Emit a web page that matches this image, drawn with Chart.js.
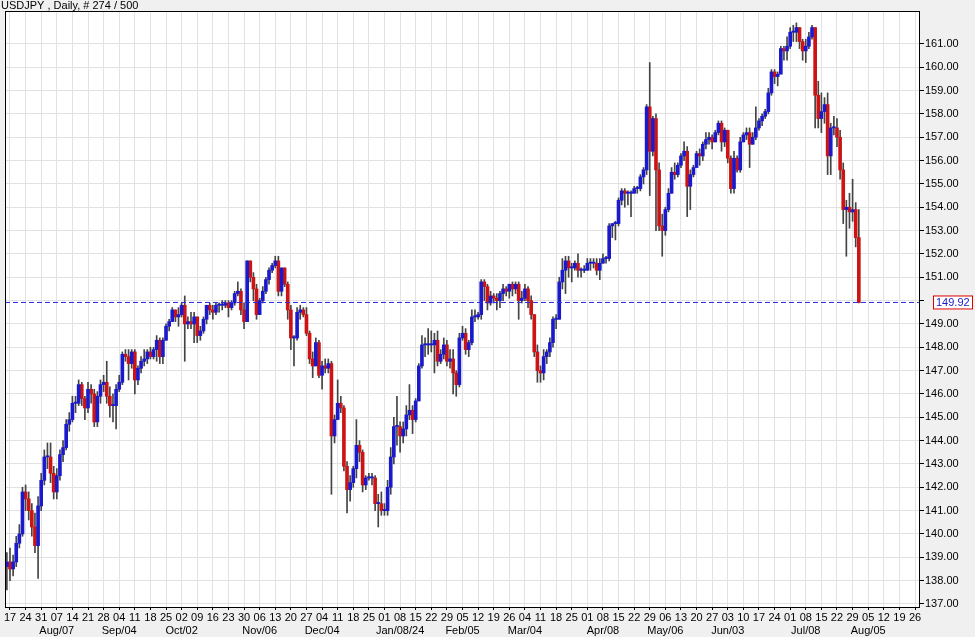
<!DOCTYPE html>
<html><head><meta charset="utf-8">
<script src="https://cdn.jsdelivr.net/npm/chart.js@4"></script>
<style>html,body{margin:0;padding:0;background:#f0f0f0;overflow:hidden}</style>
</head><body><canvas id="c" width="975" height="637"></canvas>
<script>
const title = "USDJPY , Daily, # 274 / 500";
const firstOpen = 138.6;
const closes = [138.8,
138.5,138.8,139.6,140.0,141.8, 141.5,141.0,140.3,139.5,141.2, 142.3,143.3,143.3,142.6,141.8, 142.5,143.4,143.7,144.7,144.9,
145.6,145.6,146.4,145.8,145.4, 146.2,146.0,144.8,145.9,146.4, 146.5,145.9,145.5,145.5,146.2, 146.5,147.7,147.6,147.3,147.8,
146.6,147.1,147.4,147.5,147.8, 147.6,147.9,148.3,147.6,148.3, 148.9,149.1,149.6,149.3,149.4, 149.8,149.0,149.1,149.0,149.3,
148.5,148.7,149.2,149.8,149.6, 149.5,149.8,149.8,149.8,149.9, 149.7,149.9,150.3,150.4,149.6, 149.1,151.7,151.0,150.5,149.4,
150.0,150.4,150.9,151.3,151.5, 151.7,150.4,151.4,150.7,149.6, 148.4,148.4,149.5,149.6,149.4, 148.6,147.5,147.2,148.2,146.8,
147.2,147.1,147.3,144.2,144.9, 145.6,145.4,142.9,141.9,142.2, 142.8,143.8,143.5,142.1,142.4, 142.4,142.4,141.3,141.3,141.0,
141.0,142.0,143.3,144.6,144.6, 144.2,144.5,145.1,145.3,144.9, 145.7,147.2,148.1,148.1,148.1, 148.1,148.3,147.4,147.7,148.1,
147.4,147.5,146.9,146.4,148.4, 148.6,147.9,148.2,149.3,149.3, 149.4,150.8,150.6,149.9,150.2, 150.1,150.0,150.3,150.5,150.4,
150.7,150.5,150.7,150.0,150.1, 150.5,150.0,149.4,147.8,147.0, 146.9,147.6,147.8,148.2,149.2, 149.2,150.8,151.3,151.7,151.4,
151.4,151.6,151.3,151.3,151.3, 151.6,151.6,151.6,151.3,151.6, 151.8,151.8,153.2,153.3,153.3, 154.3,154.7,154.6,154.6,154.6,
154.8,154.8,155.3,155.6,158.3, 156.4,157.8,155.6,153.2,153.0, 153.9,154.6,155.5,155.4,155.8, 156.2,156.4,154.9,155.4,155.7,
156.3,156.2,156.7,156.9,157.0, 156.8,157.2,157.6,156.8,157.3, 156.1,154.8,156.1,155.6,156.8, 157.1,157.2,156.7,157.0,157.4,
157.7,157.9,158.1,158.9,159.8, 159.6,159.7,160.8,160.7,160.9, 161.5,161.5,161.7,161.1,160.7, 160.9,161.3,161.7,158.8,157.8,
158.1,158.4,156.2,157.4,157.4, 157.0,155.6,153.9,154.0,153.8, 153.9,152.7,149.92];
const highs = [139.2,
139.4,139.1,139.9,140.4,142.0, 142.1,141.8,141.3,140.9,141.6, 142.6,143.6,143.9,143.9,142.9, 142.8,143.6,144.0,144.9,145.2,
145.9,145.9,146.6,146.5,145.9, 146.5,146.4,146.2,146.1,146.6, 146.8,147.4,146.3,146.0,146.4, 146.8,147.8,147.9,147.9,147.9,
147.9,147.2,147.6,147.9,147.9, 148.0,148.0,148.5,148.4,148.4, 149.0,149.2,149.7,149.6,149.7, 149.9,150.2,149.3,149.5,149.5,
149.3,148.9,149.3,149.8,149.9, 149.8,149.9,149.9,150.0,150.0, 150.0,150.0,150.4,150.8,150.5, 149.9,151.7,151.7,151.2,150.7,
150.1,150.6,151.0,151.4,151.6, 151.9,151.9,151.4,151.4,150.8, 149.8,148.5,149.7,149.8,149.7, 149.7,148.7,147.8,148.4,148.3,
147.4,147.5,147.5,147.4,145.1, 146.6,145.9,145.5,143.1,142.5, 142.9,144.9,144.0,143.6,142.5, 142.6,142.6,142.5,141.7,141.8,
141.3,142.3,143.7,145.0,145.9, 144.8,144.8,145.5,146.4,145.5, 145.8,147.3,148.5,148.4,148.8, 148.7,148.6,148.7,147.9,148.4,
148.3,147.9,147.9,147.0,148.6, 148.9,148.8,148.3,149.6,149.6, 149.5,150.9,150.9,150.7,150.4, 150.3,150.3,150.4,150.7,150.6,
150.7,150.8,150.8,150.8,150.4, 150.7,150.6,150.2,149.4,148.1, 147.2,147.9,147.9,148.4,149.3, 149.4,151.0,151.8,151.9,151.9,
151.6,151.7,152.0,151.4,151.5, 151.8,151.8,151.8,151.8,151.8, 152.0,151.9,153.3,153.3,153.4, 154.4,154.8,154.8,154.7,154.7,
154.9,154.9,155.4,155.7,158.4, 160.2,157.9,158.0,155.9,153.7, 154.0,154.8,155.7,155.9,155.9, 156.3,156.8,156.6,155.6,155.8,
156.4,156.5,156.8,157.2,157.2, 157.1,157.3,157.7,157.7,157.4, 157.3,156.2,156.4,156.2,157.0, 157.2,157.4,157.4,157.2,158.3,
157.8,158.0,158.2,159.1,159.9, 159.9,159.8,160.9,160.9,161.3, 161.7,161.8,161.9,161.7,161.2, 161.2,161.5,161.8,161.7,159.4,
158.9,158.7,158.9,157.6,157.9, 157.8,157.3,155.9,154.3,154.6, 155.2,154.2,153.9];
const lows = [137.6,
138.0,138.2,138.6,139.4,139.9, 141.0,140.6,139.9,139.2,138.1, 141.0,142.1,142.8,142.2,141.5, 141.5,142.3,143.1,143.6,144.4,
144.8,145.2,145.5,145.5,144.9, 145.2,145.6,144.6,144.6,145.6, 146.1,145.6,145.0,144.8,144.5, 146.1,146.4,147.4,146.6,147.1,
146.0,146.4,146.9,147.2,147.3, 147.5,147.5,147.4,147.3,147.3, 148.3,148.7,149.1,149.1,148.9, 149.3,147.4,148.8,148.8,148.2,
148.2,148.3,148.6,149.0,149.4, 149.2,149.4,149.5,149.6,149.7, 149.3,149.6,149.8,150.2,149.4, 148.8,149.1,150.8,150.0,149.2,
149.4,149.9,150.3,150.7,151.2, 151.4,150.2,150.2,150.6,149.2, 147.9,147.2,148.3,149.2,149.3, 148.5,147.3,146.7,147.2,146.7,
146.2,146.9,146.9,141.7,143.9, 145.0,145.2,142.7,140.9,141.4, 142.0,142.4,143.1,141.8,141.9, 142.3,142.1,141.0,140.3,140.8,
140.8,140.8,141.7,143.0,143.8, 143.5,143.9,144.2,144.9,144.3, 144.8,145.7,147.1,147.6,147.7, 147.8,146.9,147.2,147.3,147.5,
147.2,147.1,146.0,145.9,146.3, 148.3,147.7,147.6,148.1,149.1, 149.2,149.2,150.0,149.6,149.8, 149.9,149.6,149.7,150.0,150.2,
150.1,150.2,150.3,149.2,149.9, 150.0,149.7,149.2,147.6,146.5, 146.5,146.6,147.3,147.6,148.0, 148.8,149.2,150.5,150.3,151.0,
150.8,151.3,151.0,151.0,151.2, 151.3,151.3,151.4,151.1,150.9, 151.6,151.6,151.7,152.7,152.6, 153.2,154.1,154.0,154.1,153.6,
154.6,154.6,154.7,155.0,155.4, 154.5,156.2,153.0,153.0,151.9, 152.8,153.8,154.6,155.2,155.3, 155.7,156.0,153.6,153.9,155.3,
155.8,155.8,156.0,156.5,156.7, 156.5,156.8,157.1,156.4,156.6, 155.9,154.6,154.6,155.5,155.5, 156.8,156.9,155.7,156.7,156.9,
157.3,157.5,157.8,158.0,158.8, 159.3,159.2,159.8,160.3,160.3, 160.8,161.1,161.1,160.8,160.3, 160.2,160.8,161.2,157.4,157.4,
157.2,157.6,155.4,155.4,157.1, 156.6,155.2,153.3,151.9,153.1, 153.4,152.3,149.9];
const lastPrice = 149.92;
const yTicks = [137,138,139,140,141,142,143,144,145,146,147,148,149,150,151,152,153,154,155,156,157,158,159,160,161];
const monthLabels = {"2023-08-07":"Aug/07","2023-09-04":"Sep/04","2023-10-02":"Oct/02","2023-11-06":"Nov/06","2023-12-04":"Dec/04",
"2024-01-08":"Jan/08/24","2024-02-05":"Feb/05","2024-03-04":"Mar/04","2024-04-08":"Apr/08","2024-05-06":"May/06",
"2024-06-03":"Jun/03","2024-07-08":"Jul/08","2024-08-05":"Aug/05"};
const weekCount = 59;

const UP='#1a1acc', DN='#cc1414';
const wick=[], upB=[], dnB=[];
for(let i=0;i<closes.length;i++){
  const x=i-1, o = i===0?firstOpen:closes[i-1], c=closes[i];
  wick.push({x, y:[lows[i],highs[i]]});
  const lo=Math.min(o,c), hi=Math.max(o,c)+ (Math.abs(o-c)<0.05?0.05:0);
  (c>=o?upB:dnB).push({x, y:[lo,hi]});
}
function fmtKey(d){return d.getFullYear()+'-'+String(d.getMonth()+1).padStart(2,'0')+'-'+String(d.getDate()).padStart(2,'0');}

const bg={id:'bg',beforeDraw(ch){const {ctx,chartArea:a}=ch;ctx.save();ctx.fillStyle='#f0f0f0';ctx.fillRect(0,0,ch.width,ch.height);
 ctx.fillStyle='#fff';ctx.fillRect(a.left,a.top,a.right-a.left,a.bottom-a.top);
 ctx.fillStyle='#000';ctx.font='11px "Liberation Sans", Arial';ctx.textBaseline='middle';ctx.fillText(title,1,6);ctx.restore();},
 afterDraw(ch){const {ctx,chartArea:a}=ch;const y=ch.scales.y.getPixelForValue(lastPrice);ctx.save();
 ctx.strokeStyle='#000';ctx.lineWidth=1;ctx.strokeRect(a.left+0.5,a.top+0.5,a.right-a.left-1,a.bottom-a.top);
 ctx.fillStyle='#fff';ctx.fillRect(a.right+13,y-6,40,13);ctx.strokeStyle='#e00000';ctx.strokeRect(a.right+13.5,y-6.5,39,13);
 ctx.fillStyle='#1a1acc';ctx.font='11px "Liberation Sans", Arial';ctx.textBaseline='middle';ctx.fillText(lastPrice.toFixed(2),a.right+16,y+0.5);ctx.restore();}};

new Chart(document.getElementById('c'),{
 data:{datasets:[
  {type:'bar',data:wick,backgroundColor:'#444',barThickness:1,grouped:false,order:3},
  {type:'bar',data:upB,backgroundColor:UP,barThickness:3,grouped:false,order:2},
  {type:'bar',data:dnB,backgroundColor:DN,barThickness:3,grouped:false,order:2},
  {type:'line',data:[{x:-1.6,y:lastPrice},{x:291.6,y:lastPrice}],borderColor:'#2a2ad8',borderWidth:1,borderDash:[5,3],pointRadius:0,order:1}
 ]},
 plugins:[bg],
 options:{responsive:false,animation:false,devicePixelRatio:1,
  layout:{padding:{left:5,top:11,right:0,bottom:0}},
  plugins:{legend:{display:false},tooltip:{enabled:false}},
  scales:{
   x:{type:'linear',min:-1.6,max:291.6,offset:false,
    afterBuildTicks(s){s.ticks=[];for(let w=0;w<weekCount;w++)s.ticks.push({value:w*5});},
    afterFit(s){s.height=30;},
    grid:{color:'#e2e2e2',offset:false,drawTicks:true,tickLength:3,tickColor:'#000'},border:{display:false},
    ticks:{autoSkip:false,maxRotation:0,color:'#000',padding:1,font:{family:'"Liberation Sans", Arial',size:11},
     callback(v){const d=new Date(2023,6,17+Math.round(v/5)*7);const dd=String(d.getDate()).padStart(2,'0');const m=monthLabels[fmtKey(d)];return m?[dd,m]:dd;}}},
   y:{position:'right',min:136.87,max:162.41,
    afterBuildTicks(s){s.ticks=yTicks.map(v=>({value:v}));},
    afterFit(s){s.width=55;},
    grid:{color:'#e2e2e2',drawTicks:true,tickLength:4,tickColor:'#000'},border:{display:false},
    ticks:{autoSkip:false,color:'#000',padding:1,font:{family:'"Liberation Sans", Arial',size:11},callback(v){return v===150?'':v.toFixed(2);}}}
  }}
});
</script></body></html>
